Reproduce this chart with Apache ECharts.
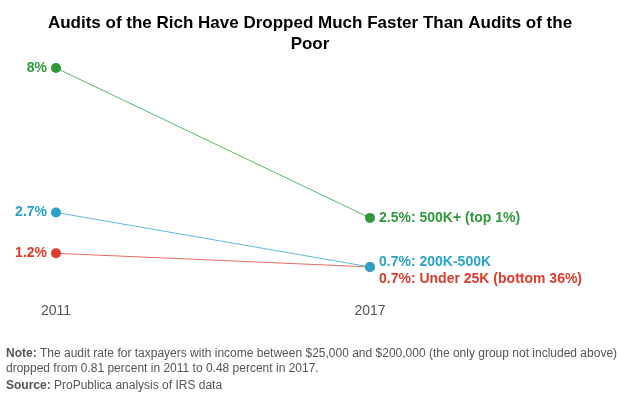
<!DOCTYPE html>
<html>
<head>
<meta charset="utf-8">
<script src="https://cdn.jsdelivr.net/npm/echarts@6/dist/echarts.min.js"></script>
<style>
  html, body { margin: 0; padding: 0; background: #fff; }
  #chart { width: 620px; height: 397px; }
</style>
</head>
<body>
<div id="chart"></div>
<script>
// data
var years = ['2011', '2017'];
var groups = ['500K+ (top 1%)', '200K-500K', 'Under 25K (bottom 36%)'];
var rich500 = [8, 2.5];
var mid200 = [2.7, 0.7];
var under25 = [1.2, 0.7];
var startLabels = ['8%', '2.7%', '1.2%'];
var endLabels = ['2.5%', '0.7%', '0.7%'];
var colors = ['#2f9a3b', '#2aa3c7', '#de3b2e'];
var lineColors = ['#5cb565', '#5bbad6', '#e86a60'];

var font = 'Liberation Sans, Arial, sans-serif';
var allValues = [rich500, mid200, under25];

function makeSeries(i) {
  // shift the two 0.7% labels apart
  var endOffset = [0, -5, 12][i];
  var vals = allValues[i];
  return {
    name: groups[i],
    type: 'line',
    symbol: 'circle',
    symbolSize: 10,
    lineStyle: { color: lineColors[i], width: 1 },
    itemStyle: { color: colors[i] },
    z: 3 - i,
    label: {
      show: true,
      fontFamily: font,
      fontWeight: 'bold',
      fontSize: 14,
      color: colors[i]
    },
    data: [
      { value: vals[0], label: { position: 'left', distance: 4, formatter: startLabels[i] } },
      { value: vals[1], label: { position: 'right', distance: 4, offset: [0, endOffset], formatter: endLabels[i] + ': ' + groups[i] } }
    ]
  };
}

var chart = echarts.init(document.getElementById('chart'));
chart.setOption({
  animation: false,
  title: {
    text: 'Audits of the Rich Have Dropped Much Faster Than Audits of the\nPoor',
    left: 'center',
    top: 8,
    textStyle: { fontFamily: font, fontSize: 17, fontWeight: 'bold', color: '#000', lineHeight: 21 }
  },
  grid: { left: 56, right: 250, top: 68, bottom: 111 },
  xAxis: {
    type: 'category',
    data: years,
    boundaryGap: false,
    axisLine: { show: false },
    axisTick: { show: false },
    axisLabel: { color: '#555', fontFamily: font, fontSize: 14, margin: 18 }
  },
  yAxis: {
    type: 'value',
    min: 0,
    max: 8,
    show: false
  },
  series: [makeSeries(0), makeSeries(1), makeSeries(2)],
  graphic: [
    {
      type: 'text',
      left: 6,
      top: 346,
      style: {
        text: '{b|Note:} The audit rate for taxpayers with income between $25,000 and $200,000 (the only group not included above)\ndropped from 0.81 percent in 2011 to 0.48 percent in 2017.',
        fontFamily: font,
        fontSize: 12,
        lineHeight: 15,
        fill: '#555',
        rich: { b: { fontWeight: 'bold', fontFamily: font, fontSize: 12, fill: '#555' } }
      }
    },
    {
      type: 'text',
      left: 6,
      top: 380,
      style: {
        text: '{b|Source:} ProPublica analysis of IRS data',
        fontFamily: font,
        fontSize: 12,
        fill: '#555',
        rich: { b: { fontWeight: 'bold', fontFamily: font, fontSize: 12, fill: '#555' } }
      }
    }
  ]
});
</script>
</body>
</html>
